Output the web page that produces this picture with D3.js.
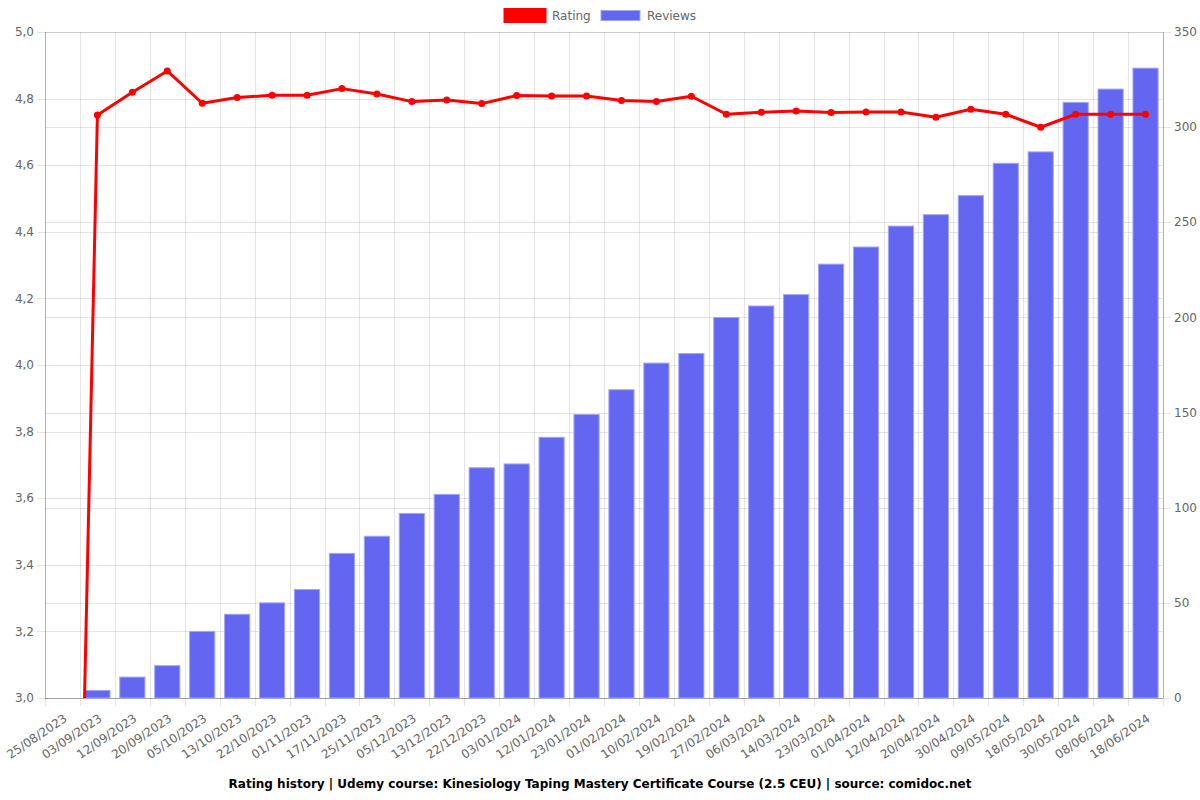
<!DOCTYPE html>
<html>
<head>
<meta charset="utf-8">
<script src="https://cdn.jsdelivr.net/npm/d3@7"></script>
<style>
  html, body { margin: 0; padding: 0; background: #fff; }
  svg { display: block; font-family: "DejaVu Sans", sans-serif; }
</style>
</head>
<body>
<svg id="chart" width="1200" height="800"></svg>
<script>
const dates = ["25/08/2023","03/09/2023","12/09/2023","20/09/2023","05/10/2023","13/10/2023","22/10/2023","01/11/2023","17/11/2023","25/11/2023","05/12/2023","13/12/2023","22/12/2023","03/01/2024","12/01/2024","23/01/2024","01/02/2024","10/02/2024","19/02/2024","27/02/2024","06/03/2024","14/03/2024","23/03/2024","01/04/2024","12/04/2024","20/04/2024","30/04/2024","09/05/2024","18/05/2024","30/05/2024","08/06/2024","18/06/2024"];
const rating = [0, 4.751, 4.819, 4.883, 4.786, 4.803, 4.810, 4.810, 4.830, 4.814, 4.791, 4.796, 4.785, 4.809, 4.808, 4.808, 4.794, 4.791, 4.807, 4.753, 4.759, 4.763, 4.758, 4.760, 4.760, 4.744, 4.768, 4.753, 4.714, 4.753, 4.753, 4.753];
const reviews = [0, 4, 11, 17, 35, 44, 50, 57, 76, 85, 97, 107, 121, 123, 137, 149, 162, 176, 181, 200, 206, 212, 228, 237, 248, 254, 264, 281, 287, 313, 320, 331];
const leftTicks = [3.0, 3.2, 3.4, 3.6, 3.8, 4.0, 4.2, 4.4, 4.6, 4.8, 5.0];
const rightTicks = [0, 50, 100, 150, 200, 250, 300, 350];
const seriesNames = ["Rating", "Reviews"];
const titleText = "Rating history | Udemy course: Kinesiology Taping Mastery Certificate Course (2.5 CEU) | source: comidoc.net";

const L = 45, R = 1163, T = 32, B = 698;
const svg = d3.select("#chart");
const gridColor = "rgba(0,0,0,0.1)";
const axisColor = "rgba(0,0,0,0.22)";
const textColor = "#666";
const barColor = "#6366f1";
const lineColor = "#ff0000";

const x = d3.scaleBand().domain(dates).range([L, R]).paddingInner(0).paddingOuter(0);
const yL = d3.scaleLinear().domain([3, 5]).range([B, T]);
const yR = d3.scaleLinear().domain([0, 350]).range([B, T]);
const bw = x.bandwidth();
const fmt = d3.format(".1f");

// horizontal grid lines (left axis)
const g = svg.append("g");
g.selectAll("line.gl").data(leftTicks).enter().append("line")
  .attr("x1", L - 8).attr("x2", R)
  .attr("y1", d => Math.round(yL(d)) + 0.5).attr("y2", d => Math.round(yL(d)) + 0.5)
  .attr("stroke", gridColor).attr("stroke-width", 1);
// horizontal grid lines (right axis)
g.selectAll("line.gr").data(rightTicks).enter().append("line")
  .attr("x1", L).attr("x2", R + 8)
  .attr("y1", d => Math.round(yR(d)) + 0.5).attr("y2", d => Math.round(yR(d)) + 0.5)
  .attr("stroke", gridColor).attr("stroke-width", 1);
// vertical grid lines at category boundaries
const bounds = dates.map(d => x(d)).concat([R]);
g.selectAll("line.gx").data(bounds).enter().append("line")
  .attr("x1", d => Math.round(d) + 0.5).attr("x2", d => Math.round(d) + 0.5)
  .attr("y1", T).attr("y2", B + 8)
  .attr("stroke", gridColor).attr("stroke-width", 1);

// axis border lines
g.append("line").attr("x1", L + 0.5).attr("x2", L + 0.5).attr("y1", T).attr("y2", B).attr("stroke", axisColor);
g.append("line").attr("x1", R + 0.5).attr("x2", R + 0.5).attr("y1", T).attr("y2", B).attr("stroke", axisColor);
g.append("line").attr("x1", L).attr("x2", R).attr("y1", B + 0.5).attr("y2", B + 0.5).attr("stroke", axisColor);

// left tick labels
svg.append("g").selectAll("text").data(leftTicks).enter().append("text")
  .attr("x", L - 11).attr("y", d => yL(d)).attr("dy", "0.35em")
  .attr("text-anchor", "end").attr("font-size", 12).attr("fill", textColor)
  .text(d => fmt(d).replace(".", ","));
// right tick labels
svg.append("g").selectAll("text").data(rightTicks).enter().append("text")
  .attr("x", R + 11).attr("y", d => yR(d)).attr("dy", "0.35em")
  .attr("text-anchor", "start").attr("font-size", 12).attr("fill", textColor)
  .text(d => d);
// x labels
svg.append("g").selectAll("text").data(dates).enter().append("text")
  .attr("transform", d => `translate(${x(d) + bw / 2 + 3},${B + 19}) rotate(-34)`)
  .attr("dy", "0.35em")
  .attr("text-anchor", "end").attr("font-size", 12).attr("fill", textColor)
  .text(d => d);

// clip
svg.append("defs").append("clipPath").attr("id", "plot")
  .append("rect").attr("x", L).attr("y", T - 5).attr("width", R - L).attr("height", B - T + 5);

// bars
const barW = bw * 0.72;
svg.append("g").selectAll("rect").data(dates.map((d, i) => ({d, v: reviews[i]}))).enter()
  .filter(o => o.v > 0)
  .append("rect")
  .attr("x", o => x(o.d) + (bw - barW) / 2)
  .attr("y", o => yR(o.v))
  .attr("width", barW)
  .attr("height", o => B - yR(o.v))
  .attr("fill", barColor)
  .attr("stroke", "#a3a5f6").attr("stroke-width", 1);

// line
const pts = dates.map((d, i) => ({d, v: rating[i]}));
const lg = svg.append("g").attr("clip-path", "url(#plot)");
lg.append("path").datum(pts)
  .attr("d", d3.line().x(o => x(o.d) + bw / 2).y(o => yL(o.v)))
  .attr("fill", "none").attr("stroke", lineColor).attr("stroke-width", 3)
  .attr("stroke-linejoin", "round");
lg.selectAll("circle").data(pts.filter(o => o.v >= 3)).enter().append("circle")
  .attr("cx", o => x(o.d) + bw / 2).attr("cy", o => yL(o.v)).attr("r", 3.5)
  .attr("fill", lineColor);

// legend
const leg = svg.append("g");
leg.append("rect").attr("x", 505).attr("y", 9.5).attr("width", 40).attr("height", 12)
  .attr("fill", lineColor).attr("stroke", lineColor).attr("stroke-width", 3);
leg.append("text").attr("x", 552).attr("y", 20).attr("font-size", 12).attr("fill", textColor).text(seriesNames[0]);
leg.append("rect").attr("x", 601).attr("y", 10.5).attr("width", 39).attr("height", 10)
  .attr("fill", barColor).attr("stroke", "#a3a5f6").attr("stroke-width", 1);
leg.append("text").attr("x", 647).attr("y", 20).attr("font-size", 12).attr("fill", textColor).text(seriesNames[1]);

// title
svg.append("text").attr("x", 600).attr("y", 788).attr("text-anchor", "middle")
  .attr("font-size", 12).attr("font-weight", "bold").attr("fill", "#000")
  .text(titleText);
</script>
</body>
</html>
